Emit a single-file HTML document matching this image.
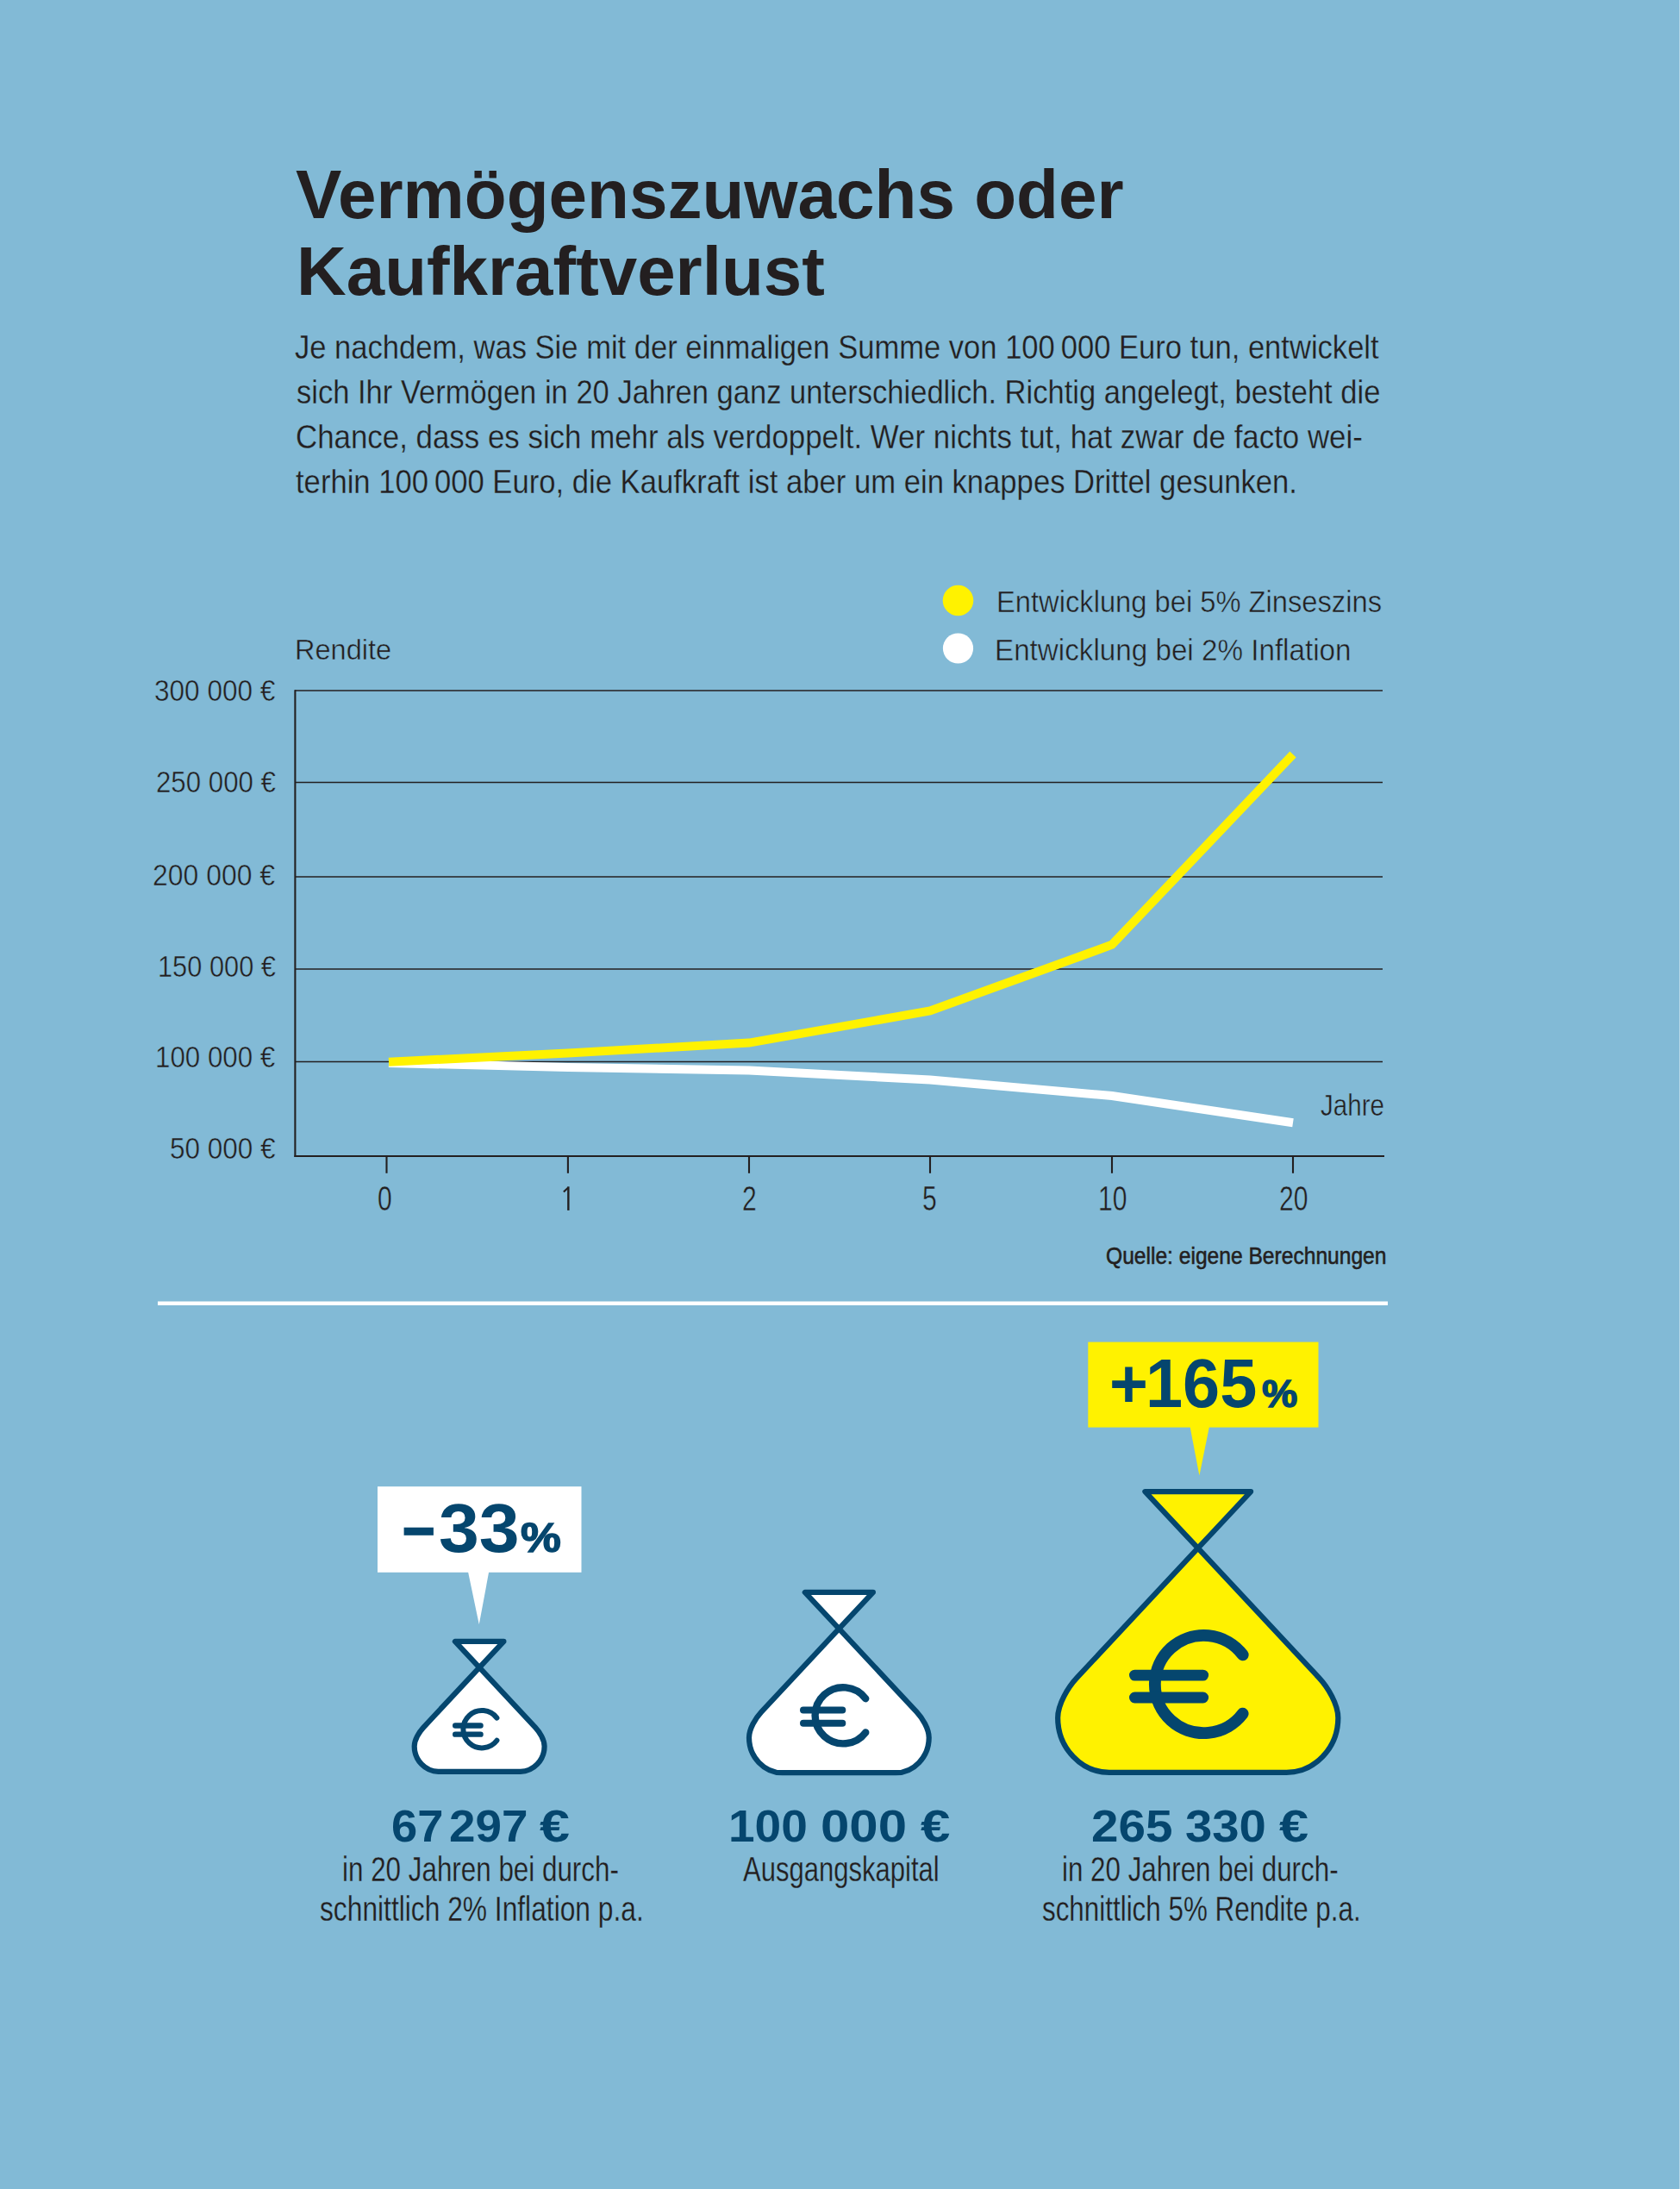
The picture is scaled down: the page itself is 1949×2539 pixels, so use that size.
<!DOCTYPE html>
<html><head><meta charset="utf-8"><style>
html,body{margin:0;padding:0}
body{width:1949px;height:2539px;background:#82bad6;position:relative;overflow:hidden;font-family:"Liberation Sans",sans-serif}
.t{position:absolute;white-space:pre;line-height:1;transform-origin:0 0}
svg{position:absolute;left:0;top:0}
</style></head><body>
<svg width="1949" height="2539" viewBox="0 0 1949 2539">
<line x1="342" y1="801" x2="1604" y2="801" stroke="#231f20" stroke-width="1.6"/>
<line x1="342" y1="907.5" x2="1604" y2="907.5" stroke="#231f20" stroke-width="1.6"/>
<line x1="342" y1="1017" x2="1604" y2="1017" stroke="#231f20" stroke-width="1.6"/>
<line x1="342" y1="1124" x2="1604" y2="1124" stroke="#231f20" stroke-width="1.6"/>
<line x1="342" y1="1231.5" x2="1604" y2="1231.5" stroke="#231f20" stroke-width="1.6"/>
<line x1="342.4" y1="800.2" x2="342.4" y2="1342" stroke="#231f20" stroke-width="2.1"/>
<line x1="341.4" y1="1341" x2="1606" y2="1341" stroke="#231f20" stroke-width="2.1"/>
<line x1="448.5" y1="1341" x2="448.5" y2="1360.8" stroke="#231f20" stroke-width="2.1"/>
<line x1="658.9" y1="1341" x2="658.9" y2="1360.8" stroke="#231f20" stroke-width="2.1"/>
<line x1="869" y1="1341" x2="869" y2="1360.8" stroke="#231f20" stroke-width="2.1"/>
<line x1="1079" y1="1341" x2="1079" y2="1360.8" stroke="#231f20" stroke-width="2.1"/>
<line x1="1290" y1="1341" x2="1290" y2="1360.8" stroke="#231f20" stroke-width="2.1"/>
<line x1="1500" y1="1341" x2="1500" y2="1360.8" stroke="#231f20" stroke-width="2.1"/>
<polyline points="451,1233 659,1238 869,1241.5 1079,1252.5 1290,1271 1500,1302.2" fill="none" stroke="#fff" stroke-width="10" stroke-linejoin="miter"/>
<polyline points="451,1231.7 659,1221.5 869,1209.6 1079,1172.4 1290,1095.8 1500,875" fill="none" stroke="#fff200" stroke-width="10" stroke-linejoin="miter"/>
<circle cx="1111.5" cy="696.5" r="17.8" fill="#fff200"/>
<circle cx="1111.5" cy="752" r="17.6" fill="#fff"/>
<rect x="1948" y="0" width="1" height="2539" fill="#b3d7e7"/>
<rect x="183" y="1509.5" width="1427" height="4.5" fill="#fff"/>
<rect x="1262.3" y="1556.6" width="267.2" height="99" fill="#fff200"/>
<polygon points="1380.6,1655 1402.9,1655 1391.4,1711.4" fill="#fff200"/>
<rect x="438" y="1724.2" width="236.5" height="99.6" fill="#fff"/>
<polygon points="543,1823 567.2,1823 555.8,1884.2" fill="#fff"/>
<rect x="468.6" y="1771.7" width="34.3" height="9.1" fill="#05466e"/>
<path d="M1389.75,1795.74 L1249.46,1945.85 C1238.80,1957.26 1227.15,1976.81 1227.15,1992.42 C1227.15,2027.54 1254.73,2055.90 1286.99,2055.90 L1492.51,2055.90 C1524.77,2055.90 1552.35,2027.54 1552.35,1992.42 C1552.35,1976.81 1540.70,1957.26 1530.04,1945.85 Z" fill="#fff200" stroke="#05466e" stroke-width="6.2" stroke-linejoin="round"/><path d="M1389.75,1795.74 L1328.40,1730.10 L1451.10,1730.10 Z" fill="#fff200" stroke="#05466e" stroke-width="6.2" stroke-linejoin="round"/>
<path d="M1441.74,1919.46 A56.65,56.65 0 1 0 1441.74,1987.64" fill="none" stroke="#05466e" stroke-width="13.8" stroke-linecap="round"/><path d="M1316.4,1943.1 L1395.7,1943.1 M1316.4,1969 L1395.7,1969" stroke="#05466e" stroke-width="12.8" stroke-linecap="round"/>
<path d="M973.35,1889.22 L883.30,1985.57 C876.46,1992.89 868.99,2005.44 868.99,2015.46 C868.99,2038.00 886.69,2056.20 907.39,2056.20 L1039.31,2056.20 C1060.01,2056.20 1077.71,2038.00 1077.71,2015.46 C1077.71,2005.44 1070.24,1992.89 1063.40,1985.57 Z" fill="#fff" stroke="#05466e" stroke-width="6.2" stroke-linejoin="round"/><path d="M973.35,1889.22 L933.80,1846.90 L1012.90,1846.90 Z" fill="#fff" stroke="#05466e" stroke-width="6.2" stroke-linejoin="round"/>
<path d="M1004.24,1970.18 A32.6,32.6 0 1 0 1004.24,2009.42" fill="none" stroke="#05466e" stroke-width="8.4" stroke-linecap="round"/><path d="M932,1983.6 L977.3,1983.6 M932,1998.7 L977.3,1998.7" stroke="#05466e" stroke-width="8" stroke-linecap="round"/>
<path d="M556.15,1934.13 L491.05,2003.78 C486.10,2009.08 480.70,2018.15 480.70,2025.39 C480.70,2041.69 493.50,2054.85 508.46,2054.85 L603.84,2054.85 C618.80,2054.85 631.60,2041.69 631.60,2025.39 C631.60,2018.15 626.20,2009.08 621.25,2003.78 Z" fill="#fff" stroke="#05466e" stroke-width="6.2" stroke-linejoin="round"/><path d="M556.15,1934.13 L527.90,1903.90 L584.40,1903.90 Z" fill="#fff" stroke="#05466e" stroke-width="6.2" stroke-linejoin="round"/>
<path d="M576.43,1992.64 A21.7,21.7 0 1 0 576.43,2018.76" fill="none" stroke="#05466e" stroke-width="6" stroke-linecap="round"/><path d="M528.2,2001.55 L557.55,2001.55 M528.2,2011.65 L557.55,2011.65" stroke="#05466e" stroke-width="6.4" stroke-linecap="round"/>
<path d="M659.35,1376.3 V1403.9" stroke="#231f20" stroke-width="2.4" fill="none"/>
<path d="M653.9,1382.6 L659.2,1377.6" stroke="#231f20" stroke-width="2.1" fill="none"/>
</svg>
<div class="t" style="left:343.00px;top:185.00px;font-size:80.38px;font-weight:700;color:#231f20;transform:scaleX(0.9958)">Vermögenszuwachs oder</div>
<div class="t" style="left:343.53px;top:274.00px;font-size:80.38px;font-weight:700;color:#231f20;transform:scaleX(0.9943)">Kaufkraftverlust</div>
<div class="t" style="left:341.80px;top:383.70px;font-size:38.52px;font-weight:400;color:#231f20;transform:scaleX(0.8974);-webkit-text-stroke:0.3px #82bad6">Je nachdem, was Sie mit der einmaligen Summe von 100 000 Euro tun, entwickelt</div>
<div class="t" style="left:343.90px;top:435.80px;font-size:38.52px;font-weight:400;color:#231f20;transform:scaleX(0.8966);-webkit-text-stroke:0.3px #82bad6">sich Ihr Vermögen in 20 Jahren ganz unterschiedlich. Richtig angelegt, besteht die</div>
<div class="t" style="left:342.79px;top:487.90px;font-size:38.52px;font-weight:400;color:#231f20;transform:scaleX(0.9054);-webkit-text-stroke:0.3px #82bad6">Chance, dass es sich mehr als verdoppelt. Wer nichts tut, hat zwar de facto wei-</div>
<div class="t" style="left:343.00px;top:540.00px;font-size:38.52px;font-weight:400;color:#231f20;transform:scaleX(0.8991);-webkit-text-stroke:0.3px #82bad6">terhin 100 000 Euro, die Kaufkraft ist aber um ein knappes Drittel gesunken.</div>
<div class="t" style="left:1155.98px;top:680.90px;font-size:34.74px;font-weight:400;color:#231f20;transform:scaleX(0.9412);-webkit-text-stroke:0.5px #82bad6">Entwicklung bei 5% Zinseszins</div>
<div class="t" style="left:1153.84px;top:737.00px;font-size:34.88px;font-weight:400;color:#231f20;transform:scaleX(0.9522);-webkit-text-stroke:0.5px #82bad6">Entwicklung bei 2% Inflation</div>
<div class="t" style="left:341.90px;top:736.80px;font-size:33.72px;font-weight:400;color:#231f20;transform:scaleX(0.9652);-webkit-text-stroke:0.5px #82bad6">Rendite</div>
<div class="t" style="left:179.18px;top:784.00px;font-size:34.74px;font-weight:400;color:#231f20;transform:scaleX(0.9079);-webkit-text-stroke:0.5px #82bad6">300 000 €</div>
<div class="t" style="left:180.50px;top:890.30px;font-size:34.74px;font-weight:400;color:#231f20;transform:scaleX(0.8993);-webkit-text-stroke:0.5px #82bad6">250 000 €</div>
<div class="t" style="left:177.46px;top:997.80px;font-size:34.74px;font-weight:400;color:#231f20;transform:scaleX(0.9191);-webkit-text-stroke:0.5px #82bad6">200 000 €</div>
<div class="t" style="left:182.54px;top:1104.00px;font-size:34.74px;font-weight:400;color:#231f20;transform:scaleX(0.8861);-webkit-text-stroke:0.5px #82bad6">150 000 €</div>
<div class="t" style="left:180.20px;top:1209.40px;font-size:34.74px;font-weight:400;color:#231f20;transform:scaleX(0.9013);-webkit-text-stroke:0.5px #82bad6">100 000 €</div>
<div class="t" style="left:196.59px;top:1315.30px;font-size:34.74px;font-weight:400;color:#231f20;transform:scaleX(0.9068);-webkit-text-stroke:0.5px #82bad6">50 000 €</div>
<div class="t" style="left:438.27px;top:1370.90px;font-size:40.12px;font-weight:400;color:#231f20;transform:scaleX(0.75);-webkit-text-stroke:0.5px #82bad6">0</div>
<div class="t" style="left:861.40px;top:1370.90px;font-size:40.12px;font-weight:400;color:#231f20;transform:scaleX(0.75);-webkit-text-stroke:0.5px #82bad6">2</div>
<div class="t" style="left:1070.33px;top:1370.90px;font-size:40.12px;font-weight:400;color:#231f20;transform:scaleX(0.75);-webkit-text-stroke:0.5px #82bad6">5</div>
<div class="t" style="left:1273.90px;top:1370.90px;font-size:40.12px;font-weight:400;color:#231f20;transform:scaleX(0.75);-webkit-text-stroke:0.5px #82bad6">10</div>
<div class="t" style="left:1483.67px;top:1370.90px;font-size:40.12px;font-weight:400;color:#231f20;transform:scaleX(0.75);-webkit-text-stroke:0.5px #82bad6">20</div>
<div class="t" style="left:1532.16px;top:1264.00px;font-size:35.32px;font-weight:400;color:#231f20;transform:scaleX(0.8372);-webkit-text-stroke:0.5px #82bad6">Jahre</div>
<div class="t" style="left:1283.13px;top:1441.80px;font-size:28.34px;font-weight:400;color:#231f20;transform:scaleX(0.8683);-webkit-text-stroke:0.6px #231f20">Quelle: eigene Berechnungen</div>
<div class="t" style="left:1463.77px;top:1594.00px;font-size:45.2px;font-weight:700;color:#05466e;transform:scaleX(1.0263);-webkit-text-stroke:1.4px #05466e">%</div>
<div class="t" style="left:508.91px;top:1732.20px;font-size:80.52px;font-weight:700;color:#05466e;transform:scaleX(1.0459)">33</div>
<div class="t" style="left:603.90px;top:1759.80px;font-size:47.9px;font-weight:700;color:#05466e;transform:scaleX(1.1);-webkit-text-stroke:1.4px #05466e">%</div>
<div class="t" style="left:396.95px;top:2148.70px;font-size:39.97px;font-weight:400;color:#231f20;transform:scaleX(0.7849);-webkit-text-stroke:0.3px #82bad6">in 20 Jahren bei durch-</div>
<div class="t" style="left:370.61px;top:2194.70px;font-size:39.97px;font-weight:400;color:#231f20;transform:scaleX(0.794);-webkit-text-stroke:0.3px #82bad6">schnittlich 2% Inflation p.a.</div>
<div class="t" style="left:862.00px;top:2148.80px;font-size:39.97px;font-weight:400;color:#231f20;transform:scaleX(0.7763);-webkit-text-stroke:0.3px #82bad6">Ausgangskapital</div>
<div class="t" style="left:1231.55px;top:2148.60px;font-size:39.97px;font-weight:400;color:#231f20;transform:scaleX(0.7842);-webkit-text-stroke:0.3px #82bad6">in 20 Jahren bei durch-</div>
<div class="t" style="left:1208.72px;top:2194.70px;font-size:39.97px;font-weight:400;color:#231f20;transform:scaleX(0.7848);-webkit-text-stroke:0.3px #82bad6">schnittlich 5% Rendite p.a.</div>
<div class="t" style="left:453.81px;top:2091.80px;font-size:52.04px;font-weight:700;color:#05466e;transform:scaleX(1.0426)">67</div>
<div class="t" style="left:520.59px;top:2091.80px;font-size:52.04px;font-weight:700;color:#05466e;transform:scaleX(1.0537)">297</div>
<div class="t" style="left:625.50px;top:2091.80px;font-size:52.04px;font-weight:700;color:#05466e;transform:scaleX(1.2071)">€</div>
<div class="t" style="left:845.23px;top:2091.80px;font-size:52.04px;font-weight:700;color:#05466e;transform:scaleX(1.0573)">100</div>
<div class="t" style="left:951.80px;top:2091.80px;font-size:52.04px;font-weight:700;color:#05466e;transform:scaleX(1.1518)">000</div>
<div class="t" style="left:1067.90px;top:2091.80px;font-size:52.04px;font-weight:700;color:#05466e;transform:scaleX(1.1893)">€</div>
<div class="t" style="left:1265.52px;top:2091.80px;font-size:52.04px;font-weight:700;color:#05466e;transform:scaleX(1.088)">265</div>
<div class="t" style="left:1374.62px;top:2091.80px;font-size:52.04px;font-weight:700;color:#05466e;transform:scaleX(1.081)">330</div>
<div class="t" style="left:1484.20px;top:2091.80px;font-size:52.04px;font-weight:700;color:#05466e;transform:scaleX(1.1786)">€</div>
<div class="t" style="left:1287.11px;top:1564.80px;font-size:79.65px;font-weight:700;color:#05466e;transform:scaleX(0.965)">+</div>
<div class="t" style="left:1328.73px;top:1564.80px;font-size:79.65px;font-weight:700;color:#05466e;transform:scaleX(0.973)">165</div>
</body></html>
